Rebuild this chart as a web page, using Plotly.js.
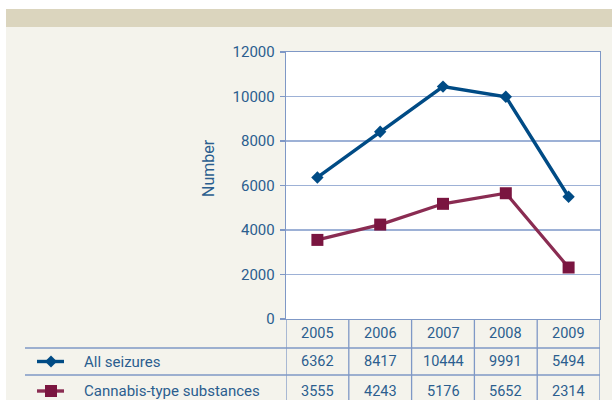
<!DOCTYPE html>
<html>
<head>
<meta charset="utf-8">
<script src="https://cdn.plot.ly/plotly-3.0.1.min.js"></script>
<style>html,body{margin:0;padding:0;background:#F4F3EC;}#chart{width:612px;height:400px;}</style>
</head>
<body>
<div id="chart"></div>
<script>
// ---- data ----
const years = ["2005", "2006", "2007", "2008", "2009"];
const seriesNames = ["All seizures", "Cannabis-type substances"];
const allSeizures = [6362, 8417, 10444, 9991, 5494];
const cannabis = [3555, 4243, 5176, 5652, 2314];
const yTickVals = [0, 2000, 4000, 6000, 8000, 10000, 12000];
const yTitle = "Number";

// ---- style ----
const BLUE = "#004B85", MAROON = "#7A1540", MAROON_LINE = "#8A2C52";
const TXT = "#2B5E8F", GRID = "#9DB1D6", BORDER = "#7F98C6";
const L = 286, R = 600, T = 52, B = 319, W = 612, H = 400;
const px = x => (x - L) / (R - L);
const py = y => (B - y) / (B - T);
const FONT = "Roboto, 'Liberation Sans', sans-serif";

const traces = [
  {x: years, y: allSeizures, name: seriesNames[0], type: "scatter", mode: "lines+markers",
   line: {color: BLUE, width: 3.4}, marker: {symbol: "diamond", size: 9.5, color: BLUE}},
  {x: years, y: cannabis, name: seriesNames[1], type: "scatter", mode: "lines+markers",
   line: {color: MAROON_LINE, width: 3.2}, marker: {symbol: "square", size: 12, color: MAROON}}
];

const shapes = [];
const ann = [];
// background bands
shapes.push({type: "rect", xref: "paper", yref: "paper", x0: px(0), x1: px(W), y0: py(0), y1: py(9), fillcolor: "#FFFFFF", line: {width: 0}, layer: "below"});
shapes.push({type: "rect", xref: "paper", yref: "paper", x0: px(0), x1: px(6), y0: py(0), y1: py(H), fillcolor: "#FFFFFF", line: {width: 0}, layer: "below"});
shapes.push({type: "rect", xref: "paper", yref: "paper", x0: px(6), x1: px(W), y0: py(9), y1: py(27), fillcolor: "#DBD5BE", line: {width: 0}, layer: "below"});
// table lines
const rowLines = [348, 375];
rowLines.forEach(y => shapes.push({type: "line", xref: "paper", yref: "paper", x0: px(25), x1: px(R), y0: py(y), y1: py(y), line: {color: BORDER, width: 1.3}}));
for (let i = 0; i <= years.length; i++) {
  shapes.push({type: "line", xref: "x", yref: "paper", x0: i - 0.5, x1: i - 0.5, y0: 0, y1: py(H + 2), line: {color: BORDER, width: 1.3}});
}
// table text
const rowY = [333.5, 361.5, 391];
const rows = [years, allSeizures, cannabis];
rows.forEach((vals, r) => vals.forEach((v, i) => ann.push({
  xref: "x", yref: "paper", x: i, y: py(rowY[r]), text: String(v), showarrow: false,
  font: {family: FONT, size: 14.5, color: TXT}, xanchor: "center", yanchor: "middle"})));
// legend rows
const legColors = [[BLUE, BLUE, "diamond"], [MAROON_LINE, MAROON, "square"]];
seriesNames.forEach((n, k) => {
  const y = rowY[k + 1];
  ann.push({xref: "paper", yref: "paper", x: px(82), y: py(y), text: n, showarrow: false,
    font: {family: FONT, size: 15, color: TXT}, xanchor: "left", yanchor: "middle"});
  shapes.push({type: "line", xref: "paper", yref: "paper", x0: px(37), x1: px(64), y0: py(y), y1: py(y), line: {color: legColors[k][0], width: 3.4}});
  if (legColors[k][2] === "diamond") {
    const cx = 51, cy = y, r = 6;
    shapes.push({type: "path", xref: "paper", yref: "paper",
      path: `M ${px(cx - r)} ${py(cy)} L ${px(cx)} ${py(cy - r)} L ${px(cx + r)} ${py(cy)} L ${px(cx)} ${py(cy + r)} Z`,
      fillcolor: legColors[k][1], line: {width: 0}});
  } else {
    shapes.push({type: "rect", xref: "paper", yref: "paper", x0: px(45), x1: px(57), y0: py(y - 6), y1: py(y + 6), fillcolor: legColors[k][1], line: {width: 0}});
  }
});
// y axis title
ann.push({xref: "paper", yref: "paper", x: px(208), y: py(168), text: yTitle, textangle: -90, showarrow: false,
  font: {family: FONT, size: 16, color: TXT}, xanchor: "center", yanchor: "middle"});

const layout = {
  width: W, height: H,
  margin: {l: L, r: W - R, t: T, b: H - B, pad: 0},
  paper_bgcolor: "#F4F3EC", plot_bgcolor: "#FFFFFF",
  showlegend: false,
  font: {family: FONT, color: TXT},
  xaxis: {type: "category", range: [-0.5, 4.5], showticklabels: false, showgrid: false, zeroline: false,
    showline: true, mirror: true, linecolor: BORDER, linewidth: 1.3, ticks: "", fixedrange: true},
  yaxis: {range: [0, 12000], tickvals: yTickVals, tickformat: "d", showgrid: true, gridcolor: GRID, gridwidth: 1.6, zeroline: false,
    showline: true, mirror: true, linecolor: BORDER, linewidth: 1.3, ticks: "outside", ticklen: 5, tickcolor: BORDER, tickwidth: 1.3,
    tickfont: {family: FONT, size: 15, color: TXT}, ticklabelstandoff: 2},
  shapes: shapes, annotations: ann
};
Plotly.newPlot("chart", traces, layout, {displayModeBar: false, staticPlot: true});
</script>
</body>
</html>
